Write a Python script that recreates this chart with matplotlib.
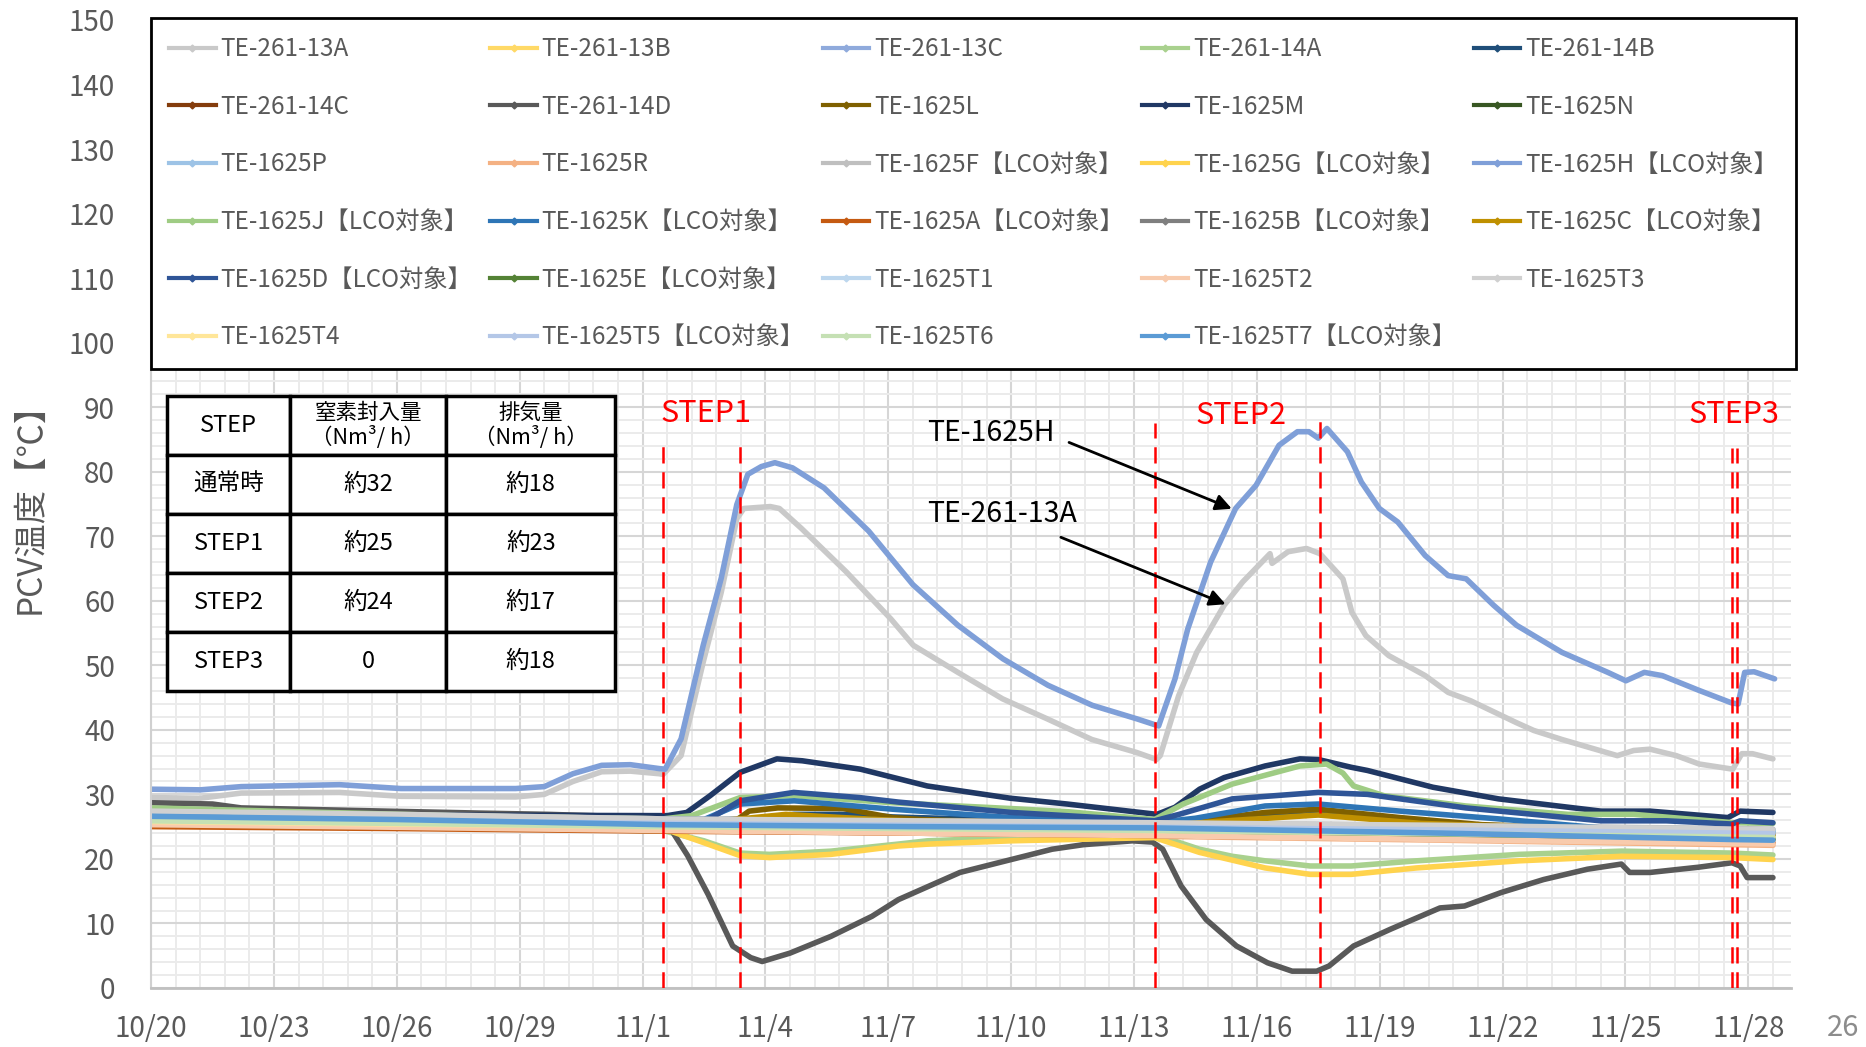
#!/usr/bin/env python3
"""PCV temperature trend during the nitrogen injection steps."""
import matplotlib
matplotlib.use("Agg")
import matplotlib.pyplot as plt
from matplotlib.lines import Line2D

plt.rcParams["font.family"] = ["Noto Sans CJK JP", "DejaVu Sans"]

# x values are days counted from 10/20 00:00
TICK_DAYS = list(range(0, 40, 3))
TICK_LABELS = ["10/20", "10/23", "10/26", "10/29", "11/1", "11/4", "11/7",
               "11/10", "11/13", "11/16", "11/19", "11/22", "11/25", "11/28"]

# --- curves with a visible response ---------------------------------------
H_DAYS = [0, 1.2, 2.2, 4.6, 6.1, 8.9, 9.6, 10.3, 11.0, 11.7, 12.4, 12.55, 12.94,
          13.48, 13.92, 14.3, 14.57, 14.9, 15.23, 15.66, 16.43, 17.52, 18.6, 19.7,
          20.8, 21.9, 22.98, 24.07, 24.6, 25.0, 25.31, 25.87, 26.48, 26.98, 27.54,
          27.99, 28.27, 28.5, 28.71, 29.21, 29.55, 29.99, 30.44, 31.11, 31.67, 32.11,
          32.78, 33.34, 34.45, 35.57, 36.01, 36.46, 36.9, 37.8, 38.58, 38.75, 38.91,
          39.14, 39.64]
H_TEMP = [30.8, 30.7, 31.2, 31.5, 30.9, 30.9, 31.2, 33.2, 34.5, 34.6, 34.0, 33.9, 38.6,
          53.1, 63.5, 74.9, 79.6, 80.8, 81.4, 80.6, 77.5, 70.8, 62.5, 56.2,
          51.0, 46.9, 43.8, 41.7, 40.6, 47.9, 55.6, 66.0, 74.3, 77.9, 84.1,
          86.2, 86.2, 85.2, 86.7, 83.1, 78.4, 74.3, 72.2, 67.0, 63.9, 63.4,
          59.3, 56.2, 52.0, 48.9, 47.6, 48.9, 48.4, 46.1, 44.2, 44.0, 48.9,
          49.0, 47.9]

A13_DAYS = [0, 1.2, 2.2, 4.6, 6.1, 8.9, 9.6, 10.3, 11.0, 11.7, 12.4, 12.5, 12.94,
            13.48, 13.92, 14.3, 14.47, 15.12, 15.34, 15.88, 16.97, 18.06, 18.61,
            19.7, 20.79, 21.88, 22.97, 24.06, 24.55, 24.64, 25.09, 25.53, 26.2,
            26.65, 27.32, 27.37, 27.76, 28.21, 28.54, 29.1, 29.32, 29.66, 30.22,
            31.11, 31.67, 32.22, 33.34, 33.76, 34.45, 35.8, 36.2, 36.6, 37.24,
            37.8, 38.62, 38.84, 39.1, 39.6]
A13_TEMP = [29.5, 29.4, 30.2, 30.3, 29.7, 29.6, 30.0, 32.0, 33.5, 33.6, 33.2, 33.1, 36.0,
            50.5, 61.3, 72.7, 74.3, 74.6, 74.3, 71.2, 64.5, 57.2, 53.1,
            48.9, 44.8, 41.7, 38.5, 36.5, 35.4, 36.0, 45.3, 52.0, 59.3,
            62.9, 67.3, 65.8, 67.6, 68.1, 67.3, 63.4, 58.2, 54.6, 51.5,
            48.4, 45.8, 44.5, 41.1, 39.9, 38.5, 36.0, 36.8, 37.0, 36.0,
            34.7, 33.9, 36.3, 36.3, 35.5]

D14_DAYS = [0, 1.5, 2.2, 5, 8, 9.7, 12.4, 12.7, 13.1, 13.6, 14.2, 14.64, 14.92, 15.6,
            16.6, 17.6, 18.25, 19.0, 19.75, 21.0, 22.0, 22.76, 23.96, 24.45, 24.7,
            25.15, 25.76, 26.5, 27.26, 27.86, 28.46, 28.76, 29.36, 30.26, 31.47,
            32.07, 32.97, 34.0, 35.07, 35.9, 36.1, 36.6, 37.77, 38.6, 38.8, 38.97,
            39.6]
D14_TEMP = [28.7, 28.5, 27.9, 27.5, 27.1, 26.9, 26.4, 24.5, 20.5, 14.5, 6.5, 4.7, 4.1, 5.4,
            8.0, 11.1, 13.7, 15.8, 17.9, 19.9, 21.5, 22.2, 22.8, 22.6, 21.5,
            15.8, 10.6, 6.5, 3.9, 2.6, 2.6, 3.4, 6.5, 9.1, 12.4,
            12.7, 14.8, 16.8, 18.4, 19.2, 17.9, 17.9, 18.7, 19.4, 18.9, 17.1,
            17.1]

M_DAYS = [0, 6, 12.6, 13.08, 13.65, 14.38, 15.28, 15.9, 17.32, 18.95, 20.98, 22.37,
          24.56, 25.0, 25.6, 26.2, 27.2, 28.05, 28.5, 29.3, 29.7, 31.3, 32.9, 35.4,
          36.6, 38.5, 38.8, 39.6]
M_TEMP = [27.0, 26.8, 26.7, 27.2, 29.8, 33.4, 35.5, 35.2, 33.9, 31.3, 29.4, 28.5,
          26.9, 28.0, 30.8, 32.6, 34.4, 35.5, 35.4, 34.2, 33.7, 31.1, 29.3, 27.4,
          27.4, 26.4, 27.4, 27.2]

D_DAYS = [0, 12.5, 13.6, 14.38, 15.69, 17.3, 18.25, 21.0, 24.5, 25.1, 26.4, 28.5,
          29.7, 32.1, 35.4, 37.0, 38.6, 38.8, 39.6]
D_TEMP = [26.8, 26.2, 26.1, 29.0, 30.3, 29.5, 28.8, 27.2, 25.9, 26.9, 29.3, 30.3,
          30.0, 27.9, 25.9, 25.9, 25.4, 25.9, 25.6]

J_DAYS = [0, 3, 8, 12.5, 13.2, 14.38, 15.7, 18.1, 21.0, 22.4, 24.5, 25.2, 26.4,
          28.05, 28.7, 29.1, 29.36, 30.1, 32.1, 34.6, 36.2, 38.64, 39.6]
J_TEMP = [27.9, 27.4, 26.6, 26.2, 26.7, 29.5, 29.8, 28.7, 27.8, 27.3, 26.1, 28.5, 31.6,
          34.4, 34.7, 33.3, 31.3, 29.8, 28.2, 26.9, 26.9, 25.6, 25.5]

A14_DAYS = [0, 6, 12.55, 13.5, 14.38, 15.1, 16.6, 18.25, 18.95, 21.0, 24.5, 25.6,
            26.4, 27.2, 28.3, 29.3, 30.9, 33.4, 35.9, 38.6, 39.6]
A14_TEMP = [26.1, 25.3, 24.3, 22.8, 20.9, 20.7, 21.2, 22.3, 22.8, 23.3, 23.8, 21.5,
            20.4, 19.7, 18.9, 18.9, 19.7, 20.7, 21.2, 20.9, 20.6]

G_DAYS = [0, 6, 12.55, 13.5, 14.38, 15.1, 16.6, 18.25, 19.0, 21.0, 24.5, 25.6, 27.2,
          28.3, 29.3, 30.9, 33.4, 35.9, 38.6, 39.6]
G_TEMP = [25.4, 25.0, 24.6, 22.5, 20.5, 20.2, 20.7, 22.0, 22.3, 22.8, 23.3, 21.0, 18.6,
          17.6, 17.6, 18.6, 19.7, 20.4, 20.2, 19.9]

K_DAYS = [0, 12.5, 13.5, 14.38, 15.7, 18.1, 21.0, 24.5, 25.5, 27.2, 28.5, 30.5, 32.9,
          35.4, 38.6, 39.6]
K_TEMP = [26.3, 25.9, 26.1, 28.5, 29.0, 27.7, 26.4, 25.6, 26.3, 28.2, 28.5, 27.4, 26.2,
          24.8, 24.4, 24.3]

L_DAYS = [0, 12.5, 14.2, 14.6, 15.3, 16.9, 18.1, 18.8, 24.5, 25.8, 27.2, 28.5, 30.5,
          32.5, 39.6]
L_TEMP = [25.8, 25.4, 25.6, 27.4, 27.9, 27.8, 26.4, 26.1, 25.0, 26.1, 27.2, 27.7, 26.4,
          25.3, 23.8]

C_DAYS = [0, 12.5, 14.4, 15.5, 18, 24.5, 26, 28.5, 31, 39.6]
C_TEMP = [25.6, 25.2, 26.2, 26.9, 26.0, 25.0, 25.8, 26.8, 25.5, 23.6]

B14_DAYS = [0, 12.5, 14.6, 15.7, 17.3, 18.1, 24.5, 26.0, 28.5, 30.5, 32.5, 39.6]
B14_TEMP = [26.3, 25.9, 26.2, 26.9, 26.9, 26.5, 25.4, 26.1, 26.9, 26.0, 24.9, 24.3]

# --- nearly flat sensors, read on a shared set of days ----------------------
FLAT_DAYS = [0, 6, 12.5, 18.5, 24.5, 31.5, 38.6, 39.6]
B13_TEMP = [25.6, 25.3, 25.0, 24.8, 24.6, 24.2, 23.8, 23.7]
C13_TEMP = [26.4, 26.1, 25.8, 25.6, 25.4, 25.0, 24.6, 24.5]
C14_TEMP = [25.2, 24.9, 24.6, 24.3, 24.0, 23.6, 23.2, 23.1]
N_TEMP = [25.6, 25.2, 24.8, 24.5, 24.2, 23.8, 23.3, 23.2]
P_TEMP = [26.9, 26.5, 26.0, 25.7, 25.4, 24.9, 24.4, 24.3]
R_TEMP = [25.6, 25.1, 24.5, 24.0, 23.5, 22.9, 22.2, 22.1]
F_TEMP = [27.2, 26.8, 26.2, 25.9, 25.6, 25.2, 24.7, 24.6]
A_TEMP = [25.0, 24.7, 24.3, 24.0, 23.6, 23.1, 22.6, 22.5]
B_TEMP = [26.0, 25.7, 25.3, 25.0, 24.7, 24.3, 23.9, 23.8]
E_TEMP = [25.4, 25.0, 24.6, 24.3, 24.0, 23.6, 23.1, 23.0]
T1_TEMP = [26.5, 26.2, 25.8, 25.5, 25.2, 24.8, 24.4, 24.3]
T2_TEMP = [25.3, 24.9, 24.4, 24.0, 23.6, 23.0, 22.4, 22.3]
T3_TEMP = [27.4, 26.9, 26.2, 25.9, 25.6, 25.2, 24.6, 24.5]
T4_TEMP = [25.8, 25.4, 25.0, 24.7, 24.4, 24.0, 23.5, 23.4]
T5_TEMP = [26.2, 25.9, 25.5, 25.2, 24.9, 24.5, 24.0, 23.9]
T6_TEMP = [25.9, 25.5, 25.0, 24.7, 24.4, 23.9, 23.4, 23.3]
T7_TEMP = [26.6, 26.1, 25.3, 25.0, 24.8, 24.0, 23.0, 22.9]

# (label, colour, days, temps) in legend order, row by row
SERIES = [
    ("TE-261-13A", "#c9c9c9", A13_DAYS, A13_TEMP),
    ("TE-261-13B", "#ffd966", FLAT_DAYS, B13_TEMP),
    ("TE-261-13C", "#8faadc", FLAT_DAYS, C13_TEMP),
    ("TE-261-14A", "#a9d18e", A14_DAYS, A14_TEMP),
    ("TE-261-14B", "#1f4e79", B14_DAYS, B14_TEMP),
    ("TE-261-14C", "#843c0c", FLAT_DAYS, C14_TEMP),
    ("TE-261-14D", "#595959", D14_DAYS, D14_TEMP),
    ("TE-1625L", "#7f6000", L_DAYS, L_TEMP),
    ("TE-1625M", "#203864", M_DAYS, M_TEMP),
    ("TE-1625N", "#385723", FLAT_DAYS, N_TEMP),
    ("TE-1625P", "#9dc3e6", FLAT_DAYS, P_TEMP),
    ("TE-1625R", "#f4b183", FLAT_DAYS, R_TEMP),
    ("TE-1625F【LCO対象】", "#bfbfbf", FLAT_DAYS, F_TEMP),
    ("TE-1625G【LCO対象】", "#ffd34d", G_DAYS, G_TEMP),
    ("TE-1625H【LCO対象】", "#7f9fd8", H_DAYS, H_TEMP),
    ("TE-1625J【LCO対象】", "#9fcc84", J_DAYS, J_TEMP),
    ("TE-1625K【LCO対象】", "#2e75b6", K_DAYS, K_TEMP),
    ("TE-1625A【LCO対象】", "#c55a11", FLAT_DAYS, A_TEMP),
    ("TE-1625B【LCO対象】", "#7f7f7f", FLAT_DAYS, B_TEMP),
    ("TE-1625C【LCO対象】", "#bf9000", C_DAYS, C_TEMP),
    ("TE-1625D【LCO対象】", "#2f5597", D_DAYS, D_TEMP),
    ("TE-1625E【LCO対象】", "#548235", FLAT_DAYS, E_TEMP),
    ("TE-1625T1", "#bdd7ee", FLAT_DAYS, T1_TEMP),
    ("TE-1625T2", "#f8cbad", FLAT_DAYS, T2_TEMP),
    ("TE-1625T3", "#d0d0d0", FLAT_DAYS, T3_TEMP),
    ("TE-1625T4", "#ffe699", FLAT_DAYS, T4_TEMP),
    ("TE-1625T5【LCO対象】", "#b4c7e7", FLAT_DAYS, T5_TEMP),
    ("TE-1625T6", "#c5e0b4", FLAT_DAYS, T6_TEMP),
    ("TE-1625T7【LCO対象】", "#5b9bd5", FLAT_DAYS, T7_TEMP),
]

# step markers
STEP_LINE_DAYS = [12.5, 14.37, 24.5, 28.54, 38.6, 38.72]
STEP_LINE_TOP = [85.3, 85.3, 87.6, 88.4, 83.7, 83.7]
STEP_NAMES = ["STEP1", "STEP2", "STEP3"]
STEP_LABEL_DAYS = [12.45, 25.5, 37.55]
STEP_LABEL_TEMP = [89.0, 88.7, 88.8]

# table of flow rates
TABLE_HEADER = ["STEP", "窒素封入量\n（Nm³/ h）", "排気量\n（Nm³/ h）"]
TABLE_ROWS = [
    ["通常時", "約32", "約18"],
    ["STEP1", "約25", "約23"],
    ["STEP2", "約24", "約17"],
    ["STEP3", "0", "約18"],
]

GRAY = "#595959"


def main() -> None:
    fig = plt.figure(figsize=(18.66, 10.47), dpi=100)
    ax = fig.add_axes([0.081, 0.0564, 0.879, 0.9245])

    for label, color, days, temps in SERIES:
        ax.plot(days, temps, color=color, lw=4.0, solid_capstyle="round", zorder=2)

    ax.vlines(STEP_LINE_DAYS, 0, STEP_LINE_TOP, colors="#ff0000", lw=1.8,
              linestyles=(0, (6.5, 3.5)), zorder=3)
    for name, x, y in zip(STEP_NAMES, STEP_LABEL_DAYS, STEP_LABEL_TEMP):
        ax.text(x, y, name, color="#ff0000", fontsize=22, ha="left", va="center", zorder=4)

    # callouts for the two hottest sensors
    ax.text(18.95, 86.0, "TE-1625H", fontsize=20.5, ha="left", va="center", zorder=4)
    ax.text(18.95, 73.4, "TE-261-13A", fontsize=20.5, ha="left", va="center", zorder=4)
    arrow = dict(arrowstyle="-|>", color="black", lw=2, mutation_scale=24)
    ax.annotate("", xy=(26.45, 74.1), xytext=(22.35, 84.7), arrowprops=arrow, zorder=4)
    ax.annotate("", xy=(26.3, 59.3), xytext=(22.15, 70.0), arrowprops=arrow, zorder=4)

    ax.set_xlim(0, 40.05)
    ax.set_ylim(0, 150)
    ax.set_xticks(TICK_DAYS)
    ax.set_xticklabels(TICK_LABELS)
    ax.set_xticks([i * 0.6 for i in range(67)], minor=True)
    ax.set_yticks(range(0, 151, 10))
    ax.set_yticks(range(0, 151, 2), minor=True)
    ax.tick_params(which="both", length=0)
    ax.tick_params(axis="y", labelsize=20, labelcolor=GRAY, pad=26)
    ax.tick_params(axis="x", labelsize=20, labelcolor=GRAY, pad=19)
    ax.set_axisbelow(True)
    ax.grid(which="minor", color="#ebebeb", lw=1.4)
    ax.grid(which="major", color="#d6d6d6", lw=1.5)
    for side in ("top", "right"):
        ax.spines[side].set_visible(False)
    ax.spines["left"].set_color("#d0d0d0")
    ax.spines["left"].set_linewidth(1.5)
    ax.spines["bottom"].set_color("#c0c0c0")
    ax.spines["bottom"].set_linewidth(2)

    fig.text(30 / 1866, 1 - 500 / 1047, "PCV温度【℃】", rotation=90, fontsize=24,
             color=GRAY, ha="center", va="center")

    # legend: matplotlib fills columns first, so regroup the row-wise list
    ncol = 5
    handles = [Line2D([], [], color=c, lw=3, marker="D", markersize=3.5) for _, c, _, _ in SERIES]
    labels = [s[0] for s in SERIES]
    order = [i for col in range(ncol) for i in range(col, len(SERIES), ncol)]
    leg = ax.legend([handles[i] for i in order], [labels[i] for i in order], ncol=ncol,
                    loc="upper left", bbox_to_anchor=(0.0, 0.64, 1.003, 0.362), mode="expand",
                    borderaxespad=0, fontsize=17.5, labelcolor=GRAY, frameon=True,
                    fancybox=False, framealpha=1, edgecolor="black", numpoints=1,
                    handlelength=1.9, handletextpad=0.2, labelspacing=1.3, borderpad=0.75)
    leg.get_frame().set_linewidth(2)
    leg.set_zorder(6)

    col_w = [123, 156, 169]
    tbl = ax.table(cellText=TABLE_ROWS, colLabels=TABLE_HEADER, cellLoc="center",
                   colWidths=[w / sum(col_w) for w in col_w],
                   bbox=[0.0098, 0.3068, 0.2732, 0.3048])
    tbl.auto_set_font_size(False)
    tbl.set_fontsize(17)
    for (row, col), cell in tbl.get_celld().items():
        cell.set_edgecolor("black")
        cell.set_linewidth(2.5)
        cell.set_facecolor("white")
        if row == 0 and col > 0:
            cell.get_text().set_fontsize(15.5)
            cell.get_text().set_linespacing(1.1)
    tbl.set_zorder(7)

    fig.text(1843 / 1866, 0.018, "26", fontsize=21, color="#8c8c8c", ha="center", va="center")

    fig.savefig("out.png", dpi=100)
    plt.close(fig)


if __name__ == "__main__":
    main()
